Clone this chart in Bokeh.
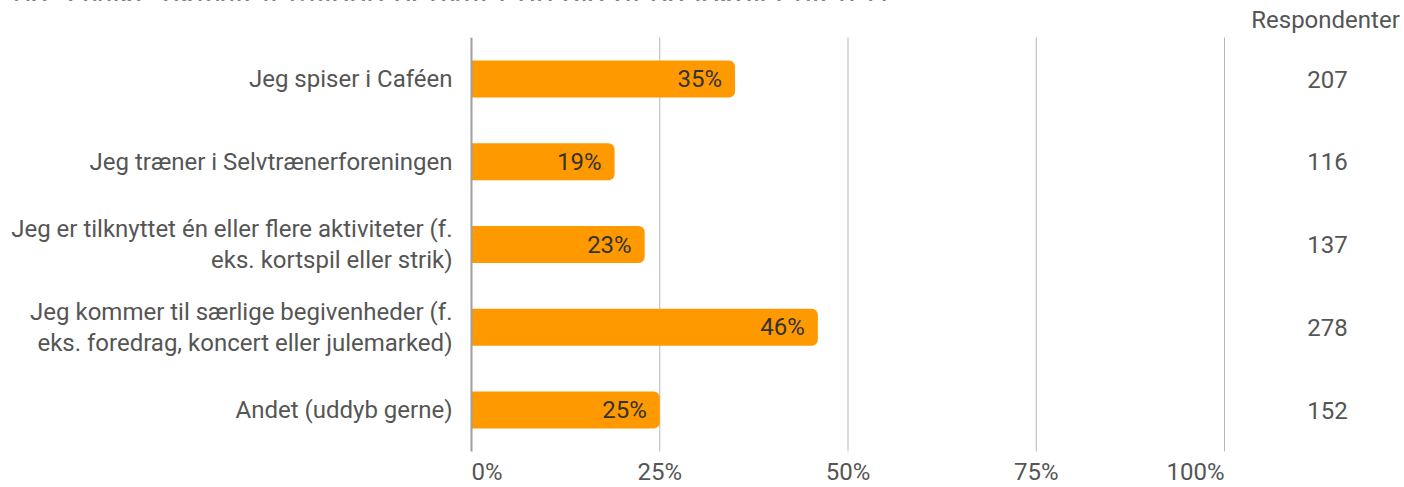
from bokeh.plotting import figure
from bokeh.models import Range1d, ColumnDataSource, Div
from bokeh.layouts import column
from bokeh.core.properties import value
from bokeh.embed import file_html
from bokeh.resources import INLINE

# ---- data ----
title = "6a. Hvilke aktiviteter/tilbud benytter du dig af på lokalcenteret?"
categories = [
    "Jeg spiser i Caféen",
    "Jeg træner i Selvtrænerforeningen",
    "Jeg er tilknyttet én eller flere aktiviteter (f.\neks. kortspil eller strik)",
    "Jeg kommer til særlige begivenheder (f.\neks. foredrag, koncert eller julemarked)",
    "Andet (uddyb gerne)",
]
percent = [35, 19, 23, 46, 25]
respondents = [207, 116, 137, 278, 152]
ticks = [0, 25, 50, 75, 100]
tick_labels = ["0%", "25%", "50%", "75%", "100%"]
resp_header = "Respondenter"

# ---- geometry (page has no margin: canvas == page) ----
W, H = 1404, 487
PX_PER_PCT = 7.53
ZERO_X = 471
ROW0_Y = 78.5
ROW_PITCH = 82.75

x0 = -ZERO_X / PX_PER_PCT
x1 = (W - ZERO_X) / PX_PER_PCT
ytop = -ROW0_Y / ROW_PITCH
ybot = (H - ROW0_Y) / ROW_PITCH

p = figure(width=W, height=H, output_backend="svg", toolbar_location=None,
           x_range=Range1d(x0, x1), y_range=Range1d(ybot, ytop),
           min_border=0, min_border_left=0, min_border_right=0,
           min_border_top=0, min_border_bottom=0)
p.xaxis.visible = False
p.yaxis.visible = False
p.xgrid.visible = False
p.ygrid.visible = False
p.outline_line_color = None
p.background_fill_color = "white"

rows = list(range(len(categories)))
n = len(categories)
FONT = value("Roboto")
GRAY = "#555555"
FS = "24px"

# grid lines
p.segment(x0=ticks[1:], x1=ticks[1:], y0=[-0.5] * 4, y1=[n - 0.5] * 4,
          line_color="#b7b7b7", line_width=1)

# bars
src = ColumnDataSource(dict(y=rows, pct=percent,
                            lbl=[f"{v}%" for v in percent],
                            cat=categories,
                            resp=[str(r) for r in respondents]))
p.hbar(y="y", left=0, right="pct", height=0.45, source=src,
       fill_color="#ff9900", line_color=None, border_radius=(0, 6, 6, 0))

# zero axis line
p.segment(x0=[0], x1=[0], y0=[-0.5], y1=[n - 0.5], line_color="#9e9e9e", line_width=2)

# value labels in bars
p.text(x="pct", y="y", text="lbl", source=src, text_align="right",
       text_baseline="middle", x_offset=-13, text_font=FONT,
       text_font_size=FS, text_color="#333333")

# category labels
p.text(x=0, y="y", text="cat", source=src, text_align="right",
       text_baseline="middle", x_offset=-19, text_font=FONT,
       text_font_size=FS, text_color=GRAY, text_line_height=1.1)

# respondents column
resp_x = (1327 - ZERO_X) / PX_PER_PCT
p.text(x=resp_x, y="y", text="resp", source=src, text_align="center",
       text_baseline="middle", text_font=FONT, text_font_size=FS,
       text_color=GRAY)
p.text(x=[(1325 - ZERO_X) / PX_PER_PCT], y=[-0.5], text=[resp_header], text_align="center",
       text_baseline="bottom", y_offset=-4, text_font=FONT,
       text_font_size=FS, text_color=GRAY)

# x tick labels
aligns = ["left", "center", "center", "center", "right"]
p.text(x=ticks, y=[n - 0.5] * len(ticks), text=tick_labels,
       text_align=aligns, text_baseline="middle", y_offset=21,
       text_font=FONT, text_font_size=FS, text_color=GRAY)

div = Div(text=title, width=0, height=0,
          styles={"position": "absolute", "top": "-25px", "left": "8px",
                  "font-size": "32px", "line-height": "32px",
                  "font-family": "Liberation Sans, Arial",
                  "color": "#000000", "white-space": "nowrap"})

layout = column(div, p, spacing=0)
open("out.html", "w").write(file_html(layout, INLINE))
